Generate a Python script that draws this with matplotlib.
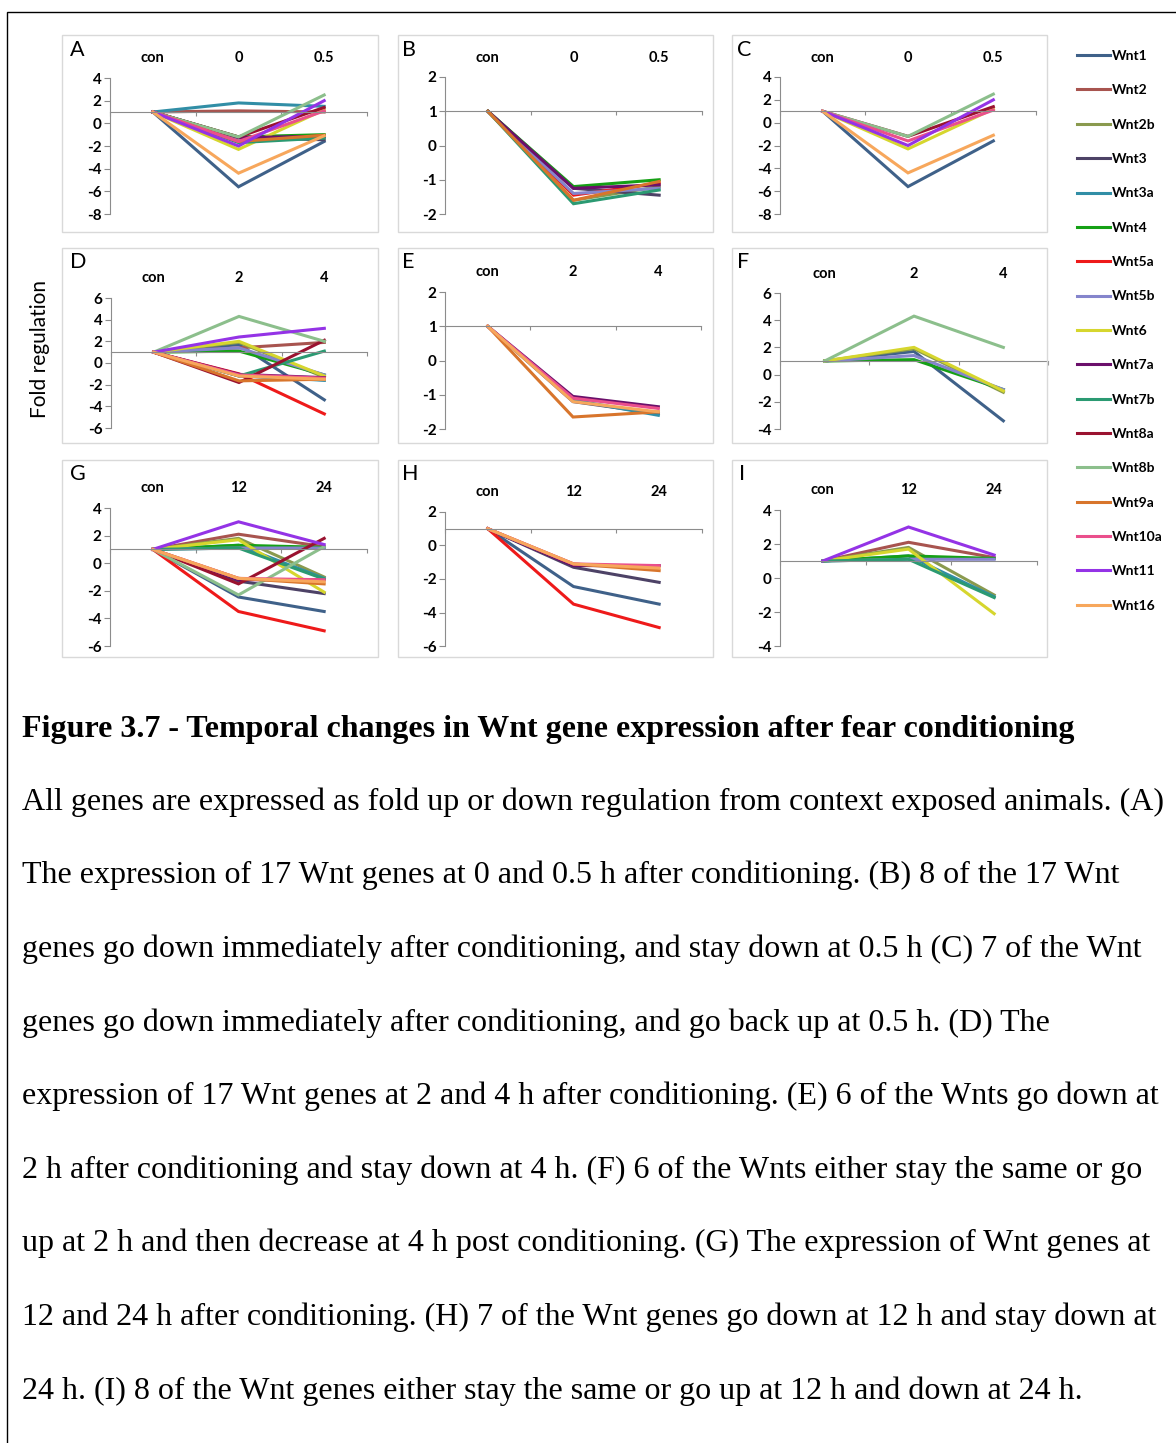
import numpy as np
import pandas as pd
import matplotlib
matplotlib.use('Agg')
from matplotlib import pyplot as plt
from matplotlib.patches import Rectangle

# Gene names and colours (legend order)
genes = ['Wnt1', 'Wnt2', 'Wnt2b', 'Wnt3', 'Wnt3a', 'Wnt4', 'Wnt5a', 'Wnt5b', 'Wnt6',
         'Wnt7a', 'Wnt7b', 'Wnt8a', 'Wnt8b', 'Wnt9a', 'Wnt10a', 'Wnt11', 'Wnt16']
colors = ['#3f6189', '#a8544f', '#8a9a4e', '#4d4266', '#318ea6', '#15a015', '#ee1a1a',
          '#8585cc', '#d6d62e', '#6b0f6b', '#2b9a72', '#9a1230', '#8cbf8c', '#d8752c',
          '#ea4f8c', '#9433e6', '#f7a75c']

# Fold regulation, con is 1 for every gene
con = [1.0] * 17
early_0 = [-5.6, 1.1, -1.6, -1.25, 1.8, -1.2, -1.45, -1.4, -2.3, -1.25, -1.7, -1.2, -1.2, -1.6, -1.6, -2.0, -4.4]
early_05 = [-1.6, 1.0, -1.2, -1.45, 1.5, -1.0, -1.1, -1.25, 1.2, -1.15, -1.3, 1.4, 2.5, -1.05, 1.1, 2.0, -1.1]
mid_2 = [1.7, 1.4, 1.9, -1.2, -1.15, 1.1, -1.0, 1.4, 2.0, -1.05, -1.2, -1.8, 4.3, -1.65, -1.1, 2.4, -1.2]
mid_4 = [-3.4, 1.9, -1.3, -1.55, -1.6, -1.1, -4.7, -1.1, -1.2, -1.35, 1.1, 2.1, 2.0, -1.5, -1.4, 3.2, -1.5]
late_12 = [-2.45, 2.1, 1.8, -1.3, 1.3, 1.3, -3.5, 1.1, 1.7, -1.2, 1.1, -1.5, -2.3, -1.1, -1.1, 3.0, -1.1]
late_24 = [-3.5, 1.2, -1.0, -2.2, -1.1, 1.15, -4.9, 1.1, -2.1, -1.2, -1.15, 1.8, 1.2, -1.5, -1.2, 1.35, -1.35]

early_labels = ['con', '0', '0.5']
mid_labels = ['con', '2', '4']
late_labels = ['con', '12', '24']

# Which genes show up in each panel
sub_B = ['Wnt2b', 'Wnt3', 'Wnt4', 'Wnt5a', 'Wnt5b', 'Wnt7a', 'Wnt7b', 'Wnt9a']
sub_C = ['Wnt1', 'Wnt6', 'Wnt8a', 'Wnt8b', 'Wnt10a', 'Wnt11', 'Wnt16']
sub_E = ['Wnt3', 'Wnt3a', 'Wnt7a', 'Wnt9a', 'Wnt10a', 'Wnt16']
sub_F = ['Wnt1', 'Wnt2b', 'Wnt4', 'Wnt5b', 'Wnt6', 'Wnt8b']
sub_H = ['Wnt1', 'Wnt3', 'Wnt5a', 'Wnt7a', 'Wnt9a', 'Wnt10a', 'Wnt16']
sub_I = ['Wnt2', 'Wnt2b', 'Wnt3a', 'Wnt4', 'Wnt5b', 'Wnt6', 'Wnt7b', 'Wnt11']

early = pd.DataFrame({'con': con, 't1': early_0, 't2': early_05}, index=genes)
mid = pd.DataFrame({'con': con, 't1': mid_2, 't2': mid_4}, index=genes)
late = pd.DataFrame({'con': con, 't1': late_12, 't2': late_24}, index=genes)
colorOf = dict(zip(genes, colors))

W, H = 1176, 1443
fig = plt.figure(figsize=(W / 100, H / 100), dpi=100)


def fx(px):
    return px / W


def fy(py):
    return 1 - py / H


# outer page border (top and left only visible)
fig.add_artist(Rectangle((fx(7), -0.1), 1.2, fy(12) + 0.1, transform=fig.transFigure,
                         fill=False, edgecolor='black', linewidth=1.0))

# panel frames
frameX = [(62, 378), (398, 713), (732, 1047)]
frameY = [(35, 232), (248, 443), (460, 657)]
for (y0, y1) in frameY:
    for (x0, x1) in frameX:
        fig.add_artist(Rectangle((fx(x0), fy(y1)), fx(x1 - x0), (y1 - y0) / H,
                                 transform=fig.transFigure, fill=False,
                                 edgecolor='#d9d9d9', linewidth=1.0))

# (letter, data, subset, labels, plot box px (l, t, r, b), ylim, ystep)
panels = [
    ('A', early, None, early_labels, (110, 78, 367, 214), (-8, 4), 2),
    ('B', early, sub_B, early_labels, (445, 77, 702, 214), (-2, 2), 1),
    ('C', early, sub_C, early_labels, (780, 77, 1036, 214), (-8, 4), 2),
    ('D', mid, None, mid_labels, (111, 298, 367, 428), (-6, 6), 2),
    ('E', mid, sub_E, mid_labels, (445, 292, 701, 429), (-2, 2), 1),
    ('F', mid, sub_F, mid_labels, (780, 293, 1048, 429), (-4, 6), 2),
    ('G', late, None, late_labels, (110, 508, 367, 646), (-6, 4), 2),
    ('H', late, sub_H, late_labels, (445, 512, 702, 646), (-6, 2), 2),
    ('I', late, sub_I, late_labels, (780, 510, 1037, 646), (-4, 4), 2),
]
letterPos = {'A': (70, 50), 'B': (402, 50), 'C': (737, 50),
             'D': (70, 262), 'E': (402, 262), 'F': (737, 262),
             'G': (70, 474), 'H': (402, 474), 'I': (739, 474)}

xpos = np.array([0.5, 1.5, 2.5])
legendHandles = None
for letter, df, subset, labels, box, ylim, ystep in panels:
    l, t, r, b = box
    ax = fig.add_axes([fx(l), fy(b), fx(r - l), (b - t) / H])
    rows = df if subset is None else df.loc[subset]
    handles = []
    for gene, row in rows.iterrows():
        ln, = ax.plot(xpos, row.values, color=colorOf[gene], linewidth=2.2,
                      solid_joinstyle='miter', label=gene)
        handles.append(ln)
    if subset is None and legendHandles is None:
        legendHandles = handles

    ax.set_xlim(0, 3)
    ax.set_ylim(*ylim)
    yt = np.arange(ylim[0], ylim[1] + 0.1, ystep)
    ax.set_yticks(yt)
    ax.set_yticklabels([str(int(v)) for v in yt], fontsize=11, fontweight='bold',
                       fontfamily='Lato')

    for s in ['top', 'right']:
        ax.spines[s].set_visible(False)
    ax.spines['left'].set_color('#8c8c8c')
    ax.spines['bottom'].set_color('#8c8c8c')
    ax.spines['bottom'].set_position(('data', 1))
    ax.spines['left'].set_linewidth(0.8)
    ax.spines['bottom'].set_linewidth(0.8)
    ax.tick_params(axis='y', direction='out', length=4, width=0.8, color='#8c8c8c', pad=2)

    # category labels on top, tick marks on the axis at y=1
    ax.set_xticks(xpos)
    ax.set_xticklabels(labels, fontsize=10.5, fontweight='bold', fontfamily='Lato')
    ax.set_xticks([0, 1, 2, 3], minor=True)
    ax.tick_params(axis='x', which='major', bottom=False, top=False, labelbottom=False,
                   labeltop=True, length=0, pad=9)
    ax.tick_params(axis='x', which='minor', bottom=True, top=False, direction='out',
                   length=3, width=0.8, color='#8c8c8c')
    ax.patch.set_alpha(0)

    lx, ly = letterPos[letter]
    fig.text(fx(lx), fy(ly), letter, fontsize=15.5, fontfamily='Lato', ha='left', va='center')

# legend
fig.legend(handles=legendHandles, labels=genes, loc='upper left',
           bbox_to_anchor=(fx(1070), fy(43)), frameon=False,
           prop={'family': 'Lato', 'weight': 'bold', 'size': 10},
           handlelength=2.4, handletextpad=0.1, labelspacing=1.61, borderpad=0)

fig.text(fx(40), fy(349), 'Fold regulation', rotation=90, fontsize=15,
         fontfamily='Lato', ha='center', va='center')

# caption
fig.text(fx(22), fy(730), 'Figure 3.7 - Temporal changes in Wnt gene expression after fear conditioning',
         fontsize=23, fontweight='bold', fontfamily='Liberation Serif', ha='left', va='center')

caption = [
    'All genes are expressed as fold up or down regulation from context exposed animals. (A)',
    'The expression of 17 Wnt genes at 0 and 0.5 h after conditioning. (B) 8 of the 17 Wnt',
    'genes go down immediately after conditioning, and stay down at 0.5 h (C) 7 of the Wnt',
    'genes go down immediately after conditioning, and go back up at 0.5 h. (D) The',
    'expression of 17 Wnt genes at 2 and 4 h after conditioning. (E) 6 of the Wnts go down at',
    '2 h after conditioning and stay down at 4 h. (F) 6 of the Wnts either stay the same or go',
    'up at 2 h and then decrease at 4 h post conditioning. (G) The expression of Wnt genes at',
    '12 and 24 h after conditioning. (H) 7 of the Wnt genes go down at 12 h and stay down at',
    '24 h. (I) 8 of the Wnt genes either stay the same or go up at 12 h and down at 24 h.',
]
for i, line in enumerate(caption):
    fig.text(fx(22), fy(802 + i * 73.6), line, fontsize=23,
             fontfamily='Liberation Serif', ha='left', va='center')

fig.savefig('out.png', dpi=100)
